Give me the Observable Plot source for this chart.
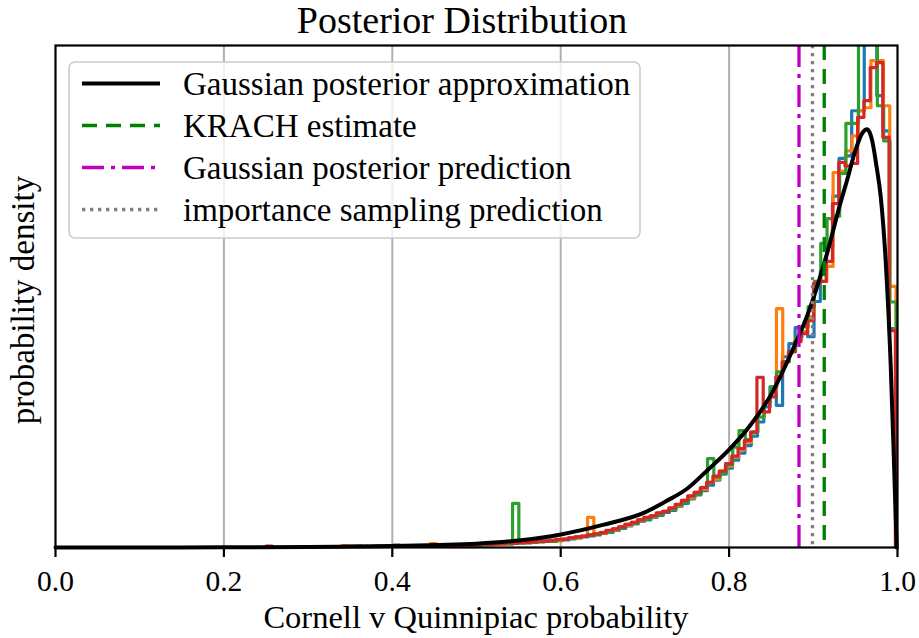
<!DOCTYPE html>
<html><head><meta charset="utf-8">
<script src="https://cdn.jsdelivr.net/npm/d3@7"></script>
<script src="https://cdn.jsdelivr.net/npm/@observablehq/plot@0.6"></script>
<style>
body{margin:0;background:#fff;}
#wrap{position:relative;width:919px;height:638px;}
#wrap svg{display:block}
#ov{position:absolute;left:0;top:0;pointer-events:none}
</style></head><body><div id="wrap"></div>
<script>
// ---- data ----
const seriesNames = ["blue", "orange", "green", "red"];
const seriesColors = ["#1f77b4", "#ff7f0e", "#2ca02c", "#d62728"];
const binRanges = [[0.2520, 0.9978], [0.2505, 0.9983], [0.2515, 0.9985], [0.2500, 0.9975]];

const blueVals = [0,0,0,0,0,0,0,0,0,0,
 0,0,0,0,.03,0,0,0,0,0,
 .05,0,0,0,.03,0,0,.03,0,.04,
 0,.03,.05,.05,.05,.07,.06,.08,.07,.08,
 .10,.09,.11,.11,.13,.12,.14,.15,.17,.19,
 .21,.23,.25,.28,.30,.34,.38,.43,.47,.52,
 .55,.60,.64,.70,.74,.82,.88,.97,1.05,1.13,
 1.24,1.34,1.46,1.58,1.74,1.88,2.03,2.22,2.5,2.8,
 3.2,2.83,3.8,4.06,4.38,4.3,4.2,4.9,5.5,6.0,
 7.0,7.75,7.8,8.7,8.7,11,11,9.0,8.3,4.36];
const orangeVals = [0,0,0,0,0,0,0,0,0,0,
 0,0,.04,.03,0,0,0,0,0,0,
 0,0,.03,0,0,0,.08,0,.03,0,
 .04,0,.05,.06,.05,.06,.08,.06,.08,.09,
 .08,.10,.12,.11,.12,.14,.13,.17,.18,.19,
 .23,.60,.27,.28,.33,.35,.41,.44,.50,.53,
 .59,.61,.68,.72,.78,.83,.94,.99,1.10,1.16,
 1.30,1.36,1.52,1.62,1.80,1.95,2.1,2.3,2.6,2.9,
 3.1,4.76,3.7,3.9,4.15,4.3,4.6,5.26,5.3,5.6,
 7.47,7.5,7.9,8.2,8.7,8.76,9.7,9.7,8.8,5.2];
const greenVals = [0,0,0,0,0,0,0,0,0,0,
 0,0,0,0,0,0,0,.03,0,0,
 0,0,0,.03,0,0,0,.03,0,0,
 .05,0,.04,.04,.06,.05,.07,.08,.07,.88,
 .09,.11,.10,.12,.13,.12,.15,.16,.19,.21,
 .22,.25,.26,.30,.31,.37,.39,.46,.48,.55,
 .57,.63,.66,.72,.76,.85,.91,1.02,1.07,1.2,
 1.77,1.4,1.48,1.65,2.0,2.33,2.15,2.3,2.6,2.9,
 3.2,3.5,3.7,3.9,4.2,4.4,4.8,5.3,6.06,6.55,
 6.6,7.45,8.45,8.45,10.5,11,11,8.8,8.1,4.89];
const redVals = [.03,0,0,0,0,0,0,0,0,0,
 0,0,0,0,0,0,0,0,0,.03,
 0,0,0,0,0,.03,0,0,.04,0,
 0,.05,.04,.05,.07,.06,.07,.07,.09,.08,
 .10,.10,.11,.13,.12,.14,.16,.16,.19,.21,
 .22,.25,.27,.29,.34,.37,.41,.46,.50,.55,
 .60,.63,.69,.72,.79,.86,.94,1.03,1.10,1.19,
 1.3,1.42,1.52,1.67,1.82,1.97,2.13,2.3,3.39,2.7,
 3.0,3.4,3.7,3.9,4.1,4.26,4.52,5.26,5.3,5.7,
 6.85,7.67,7.6,7.65,8.57,8.9,9.56,9.66,8.17,4.32];
const seriesVals = [blueVals, orangeVals, greenVals, redVals];

const gaussX = [0, 0.1, 0.2, 0.3, 0.35, 0.4, 0.45, 0.5, 0.55, 0.6, 0.65, 0.7, 0.725, 0.75, 0.775, 0.8, 0.825, 0.85, 0.875, 0.895, 0.915, 0.933, 0.94, 0.95, 0.958, 0.964, 0.97, 0.975, 0.98, 0.986, 0.992, 0.996, 0.999];
const gaussY = [0, 0, 0.003, 0.01, 0.018, 0.03, 0.05, 0.075, 0.14, 0.26, 0.45, 0.70, 0.92, 1.17, 1.55, 1.95, 2.43, 3.05, 3.92, 4.72, 5.78, 6.91, 7.31, 7.91, 8.25, 8.33, 8.1, 7.6, 7.0, 5.7, 3.6, 1.6, 0];

const krachEstimate = 0.913;
const gaussPrediction = 0.883;
const isPrediction = 0.899;

const xTicks = [0, 0.2, 0.4, 0.6, 0.8, 1.0];
const gridTicks = [0.2, 0.4, 0.6, 0.8];

const titleText = "Posterior Distribution";
const xLabel = "Cornell v Quinnipiac probability";
const yLabel = "probability density";
const legendLabels = ["Gaussian posterior approximation", "KRACH estimate", "Gaussian posterior prediction", "importance sampling prediction"];

// ---- build ----
const FONT = '"Liberation Serif", "Times New Roman", serif';
const curveData = gaussX.map((x, i) => ({x, y: gaussY[i]}));

function stepData(vals, lo, hi) {
  const n = vals.length, w = (hi - lo) / n;
  const pts = [{x: lo, y: 0}];
  vals.forEach((v, i) => pts.push({x: lo + i * w, y: v}));
  pts.push({x: hi, y: vals[n - 1]});
  pts.push({x: hi, y: 0});
  return pts;
}
const histMarks = seriesNames.map((name, k) =>
  Plot.line(stepData(seriesVals[k], binRanges[k][0], binRanges[k][1]),
    {x: "x", y: "y", stroke: seriesColors[k], strokeWidth: 3.2, curve: "step-after", clip: true}));

const svg = Plot.plot({
  width: 919, height: 638,
  marginLeft: 55, marginRight: 22, marginTop: 45, marginBottom: 91,
  style: {fontFamily: FONT, fontSize: "29.5px", color: "black", background: "white", overflow: "visible"},
  x: {domain: [0, 1], axis: null},
  y: {domain: [0, 10], axis: null},
  marks: [
    Plot.gridX(gridTicks, {stroke: "#b0b0b0", strokeOpacity: 1, strokeWidth: 2}),
    ...histMarks,
    Plot.line(curveData, {x: "x", y: "y", stroke: "black", strokeWidth: 4, curve: "monotone-x"}),
    Plot.ruleX([krachEstimate], {stroke: "#008000", strokeWidth: 3.3, strokeDasharray: "15,9"}),
    Plot.ruleX([gaussPrediction], {stroke: "#bf00bf", strokeWidth: 3.3, strokeDasharray: "22,7,4,7"}),
    Plot.ruleX([isPrediction], {stroke: "#808080", strokeWidth: 3.3, strokeDasharray: "3.3,4.7"}),
    Plot.frame({stroke: "black", strokeWidth: 2.2}),
    Plot.axisX(xTicks, {tickFormat: d3.format(".1f"), tickSize: 10, tickPadding: 12.7, strokeWidth: 2.2, label: null, fontSize: 29.5, fill: "black"})
  ]
});
const wrap = document.getElementById("wrap");
wrap.appendChild(svg);

// overlay: title, axis labels, legend
const ov = d3.select(wrap).append("svg").attr("id", "ov").attr("width", 919).attr("height", 638)
  .style("font-family", FONT);
ov.append("text").attr("x", 462).attr("y", 33).attr("text-anchor", "middle").attr("font-size", 38).text(titleText);
ov.append("text").attr("x", 476).attr("y", 628).attr("text-anchor", "middle").attr("font-size", 32.5).text(xLabel);
ov.append("text").attr("transform", "translate(34,300) rotate(-90)").attr("text-anchor", "middle").attr("font-size", 33).text(yLabel);

const lg = ov.append("g");
lg.append("rect").attr("x", 69).attr("y", 62).attr("width", 571).attr("height", 176).attr("rx", 6)
  .attr("fill", "white").attr("fill-opacity", 0.8).attr("stroke", "#cccccc").attr("stroke-width", 1.6);
const handles = [
  {stroke: "black", w: 4, dash: null},
  {stroke: "#008000", w: 3.3, dash: "15,9"},
  {stroke: "#bf00bf", w: 3.3, dash: "22,7,4,7"},
  {stroke: "#808080", w: 3.3, dash: "3.3,4.7"}
];
legendLabels.forEach((lab, i) => {
  const yc = 83.5 + i * 42;
  const h = handles[i];
  const ln = lg.append("line").attr("x1", 82).attr("x2", 160).attr("y1", yc).attr("y2", yc)
    .attr("stroke", h.stroke).attr("stroke-width", h.w);
  if (h.dash) ln.attr("stroke-dasharray", h.dash);
  lg.append("text").attr("x", 183).attr("y", yc + 11.5).attr("font-size", 33).text(lab);
});
</script></body></html>
